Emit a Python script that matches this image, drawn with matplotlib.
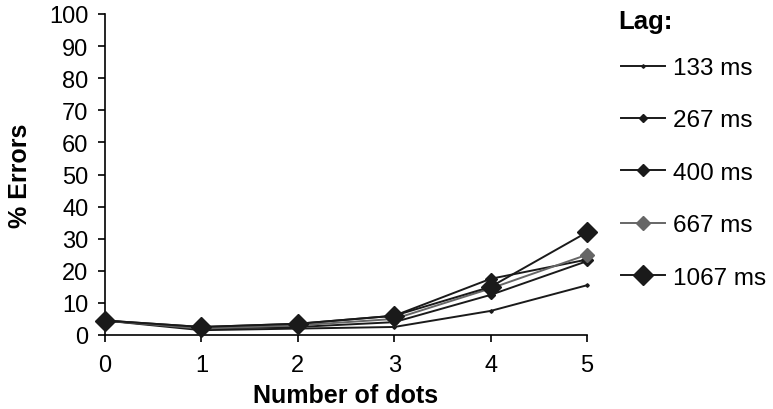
import numpy as np
import matplotlib
matplotlib.use("Agg")
from matplotlib import pyplot as plt

plt.rcParams['font.family'] = ['Liberation Sans', 'DejaVu Sans']

dots = [0, 1, 2, 3, 4, 5]
lag_labels = ["133 ms", "267 ms", "400 ms", "667 ms", "1067 ms"]
err_133 = [4.5, 1.5, 2.0, 2.5, 7.5, 15.5]
err_267 = [4.5, 2.0, 2.5, 4.0, 12.5, 23.0]
err_400 = [4.5, 2.5, 3.5, 6.0, 17.5, 23.5]
err_667 = [4.5, 2.0, 3.0, 5.0, 14.5, 25.0]
err_1067 = [4.5, 2.5, 3.5, 6.0, 15.0, 32.0]

series = [err_133, err_267, err_400, err_667, err_1067]
colors = ["#1a1a1a", "#1a1a1a", "#1a1a1a", "#666666", "#1a1a1a"]
msizes = [1.8, 3.8, 6.0, 7.5, 10.0]

fig = plt.figure(figsize=(7.73, 4.10), dpi=100)
ax = fig.add_axes([105/773, 1-336/410, (587-105)/773, (336-15)/410])

for vals, lab, c, ms in zip(series, lag_labels, colors, msizes):
    ax.plot(dots, vals, "-", color=c, lw=1.4, marker="D", ms=ms,
            mfc=c, mec=c, label=lab, clip_on=False, zorder=3)

ax.set_xlim(0, 5)
ax.set_ylim(0, 100)
ax.set_xticks(dots)
ax.set_yticks(np.arange(0, 101, 10))
for s in ["top", "right"]:
    ax.spines[s].set_visible(False)
for s in ["left", "bottom"]:
    ax.spines[s].set_linewidth(1.2)
ax.tick_params(axis="both", direction="out", length=5, width=1.2, labelsize=17)
ax.tick_params(axis="y", pad=7)
ax.tick_params(axis="x", pad=9)
ax.set_xlabel("Number of dots", fontsize=18, fontweight="bold", labelpad=5)
ax.set_ylabel("% Errors", fontsize=18, fontweight="bold", labelpad=12)

fig.text(618/773, 1-22/410, "Lag:", fontsize=18.5, fontweight="bold",
         ha="left", va="center")
leg = ax.legend(loc="upper left", bbox_to_anchor=(621/773, 1-58/410),
                bbox_transform=fig.transFigure, frameon=False,
                fontsize=17.5, handlelength=1.8, handletextpad=0.35,
                labelspacing=1.25, borderpad=0, borderaxespad=0)

fig.savefig("out.png", dpi=100)
